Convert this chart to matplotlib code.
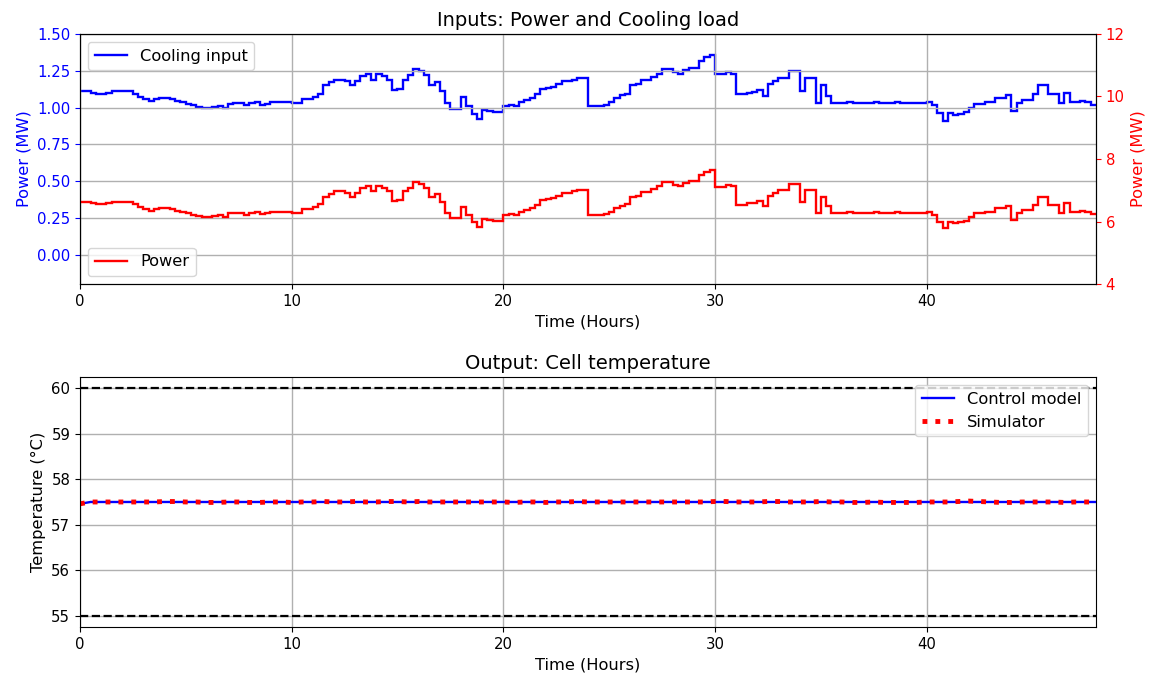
import numpy as np
import matplotlib
matplotlib.use("Agg")
import matplotlib.pyplot as plt

# Quarter-hour cooling input (MW), 48 hours
cooling = [
    1.11, 1.11, 1.10, 1.095,
    1.095, 1.10, 1.11, 1.115,
    1.11, 1.11, 1.095, 1.07,
    1.055, 1.045, 1.06, 1.065,
    1.065, 1.06, 1.045, 1.035,
    1.025, 1.015, 1.005, 0.995,
    0.995, 1.005, 1.01, 1.00,
    1.025, 1.03, 1.03, 1.015,
    1.03, 1.035, 1.02, 1.025,
    1.04, 1.04, 1.04, 1.035,
    1.03, 1.03, 1.06, 1.06,
    1.07, 1.095, 1.15, 1.175,
    1.19, 1.19, 1.18, 1.15,
    1.18, 1.215, 1.23, 1.19,
    1.23, 1.215, 1.19, 1.12,
    1.125, 1.19, 1.22, 1.26,
    1.25, 1.22, 1.15, 1.17,
    1.11, 1.03, 0.99, 0.99,
    1.07, 1.01, 0.955, 0.92,
    0.98, 0.975, 0.97, 0.97,
    1.01, 1.02, 1.01, 1.04,
    1.05, 1.065, 1.09, 1.125,
    1.135, 1.14, 1.16, 1.18,
    1.18, 1.19, 1.20, 1.20,
    1.01, 1.01, 1.01, 1.02,
    1.04, 1.065, 1.085, 1.095,
    1.15, 1.16, 1.185, 1.185,
    1.21, 1.23, 1.265, 1.265,
    1.24, 1.23, 1.255, 1.27,
    1.27, 1.315, 1.34, 1.355,
    1.225, 1.225, 1.24, 1.23,
    1.09, 1.09, 1.10, 1.105,
    1.12, 1.08, 1.16, 1.18,
    1.20, 1.20, 1.245, 1.245,
    1.11, 1.20, 1.20, 1.03,
    1.15, 1.08, 1.03, 1.03,
    1.03, 1.035, 1.03, 1.03,
    1.03, 1.03, 1.035, 1.03,
    1.03, 1.03, 1.035, 1.03,
    1.03, 1.03, 1.03, 1.03,
    1.035, 1.015, 0.96, 0.91,
    0.96, 0.95, 0.955, 0.97,
    1.00, 1.025, 1.025, 1.035,
    1.035, 1.065, 1.065, 1.085,
    0.975, 1.03, 1.05, 1.05,
    1.09, 1.15, 1.15, 1.09,
    1.09, 1.03, 1.10, 1.035,
    1.035, 1.045, 1.035, 1.02,
]

# Quarter-hour electrical power (MW), 48 hours
power = [
    6.62, 6.62, 6.58, 6.56,
    6.56, 6.58, 6.62, 6.64,
    6.62, 6.62, 6.56, 6.45,
    6.39, 6.34, 6.41, 6.43,
    6.43, 6.41, 6.34, 6.30,
    6.26, 6.22, 6.18, 6.13,
    6.13, 6.18, 6.20, 6.16,
    6.26, 6.28, 6.28, 6.22,
    6.28, 6.30, 6.24, 6.26,
    6.32, 6.32, 6.32, 6.30,
    6.28, 6.28, 6.41, 6.41,
    6.45, 6.56, 6.79, 6.89,
    6.96, 6.96, 6.91, 6.79,
    6.91, 7.06, 7.12, 6.96,
    7.12, 7.06, 6.96, 6.66,
    6.68, 6.96, 7.08, 7.25,
    7.21, 7.08, 6.79, 6.87,
    6.62, 6.28, 6.11, 6.11,
    6.45, 6.20, 5.97, 5.82,
    6.07, 6.05, 6.03, 6.03,
    6.20, 6.24, 6.20, 6.32,
    6.37, 6.43, 6.53, 6.68,
    6.72, 6.74, 6.83, 6.91,
    6.91, 6.96, 7.00, 7.00,
    6.20, 6.20, 6.20, 6.24,
    6.32, 6.43, 6.51, 6.56,
    6.79, 6.83, 6.93, 6.93,
    7.04, 7.12, 7.27, 7.27,
    7.17, 7.12, 7.23, 7.29,
    7.29, 7.48, 7.59, 7.65,
    7.10, 7.10, 7.17, 7.12,
    6.53, 6.53, 6.58, 6.60,
    6.66, 6.49, 6.83, 6.91,
    7.00, 7.00, 7.19, 7.19,
    6.62, 7.00, 7.00, 6.28,
    6.79, 6.49, 6.28, 6.28,
    6.28, 6.30, 6.28, 6.28,
    6.28, 6.28, 6.30, 6.28,
    6.28, 6.28, 6.30, 6.28,
    6.28, 6.28, 6.28, 6.28,
    6.30, 6.22, 5.99, 5.78,
    5.99, 5.94, 5.97, 6.03,
    6.16, 6.26, 6.26, 6.30,
    6.30, 6.43, 6.43, 6.51,
    6.05, 6.28, 6.37, 6.37,
    6.53, 6.79, 6.79, 6.53,
    6.53, 6.28, 6.58, 6.30,
    6.30, 6.34, 6.30, 6.24,
]

# Half-hourly cell temperature (°C)
temp_hours = np.arange(0, 48.5, 0.5)
control_model = [
    57.46, 57.50, 57.50, 57.50, 57.50, 57.50, 57.50, 57.50, 57.50, 57.50,
    57.50, 57.50, 57.50, 57.50, 57.50, 57.50, 57.50, 57.50, 57.50, 57.50,
    57.50, 57.50, 57.50, 57.50, 57.50, 57.50, 57.50, 57.50, 57.50, 57.50,
    57.50, 57.50, 57.50, 57.50, 57.50, 57.50, 57.50, 57.50, 57.50, 57.50,
    57.50, 57.50, 57.50, 57.50, 57.50, 57.50, 57.50, 57.50, 57.50, 57.50,
    57.50, 57.50, 57.50, 57.50, 57.50, 57.50, 57.50, 57.50, 57.50, 57.50,
    57.50, 57.50, 57.50, 57.50, 57.50, 57.50, 57.50, 57.50, 57.50, 57.50,
    57.50, 57.50, 57.50, 57.50, 57.50, 57.50, 57.50, 57.50, 57.50, 57.50,
    57.50, 57.50, 57.50, 57.50, 57.50, 57.50, 57.50, 57.50, 57.50, 57.50,
    57.50, 57.50, 57.50, 57.50, 57.50, 57.50, 57.50,
]
simulator = [
    57.46, 57.50, 57.50, 57.50, 57.50, 57.50, 57.50, 57.50, 57.51, 57.51,
    57.50, 57.50, 57.49, 57.49, 57.50, 57.50, 57.49, 57.49, 57.50, 57.50,
    57.49, 57.50, 57.50, 57.51, 57.50, 57.50, 57.51, 57.50, 57.50, 57.51,
    57.51, 57.50, 57.51, 57.50, 57.50, 57.50, 57.50, 57.50, 57.50, 57.50,
    57.50, 57.49, 57.50, 57.50, 57.49, 57.50, 57.50, 57.51, 57.50, 57.50,
    57.50, 57.50, 57.50, 57.50, 57.50, 57.50, 57.50, 57.50, 57.50, 57.50,
    57.51, 57.51, 57.50, 57.50, 57.50, 57.51, 57.51, 57.50, 57.50, 57.50,
    57.51, 57.50, 57.50, 57.49, 57.49, 57.50, 57.49, 57.49, 57.49, 57.49,
    57.50, 57.50, 57.50, 57.51, 57.52, 57.51, 57.50, 57.49, 57.49, 57.50,
    57.50, 57.50, 57.50, 57.49, 57.50, 57.50, 57.50,
]

temp_upper = 60.0
temp_lower = 55.0

hour_edges = np.arange(0, 48.25, 0.25)

tick_fs = 10.7
label_fs = 11.7
title_fs = 14
fig = plt.figure(figsize=(11.52, 6.79), dpi=100)

# --- Inputs panel ---
ax1 = fig.add_axes([0.0694, 0.5817, 0.882, 0.3683])
ax1.stairs(cooling, hour_edges, color="blue", linewidth=1.7, baseline=None,
           label="Cooling input")
ax1.set_xlim(0, 48)
ax1.set_ylim(-0.2, 1.5)
ax1.set_yticks(np.arange(0, 1.51, 0.25))
ax1.set_ylabel("Power (MW)", color="blue", fontsize=label_fs)
ax1.tick_params(axis="y", colors="blue", labelsize=tick_fs)
ax1.tick_params(axis="x", labelsize=tick_fs)
ax1.set_xlabel("Time (Hours)", fontsize=label_fs)
ax1.set_title("Inputs: Power and Cooling load", fontsize=title_fs)
ax1.grid(True, color="#b0b0b0", linewidth=1.0)
ax1.legend(loc="upper left", fontsize=label_fs)

ax2 = ax1.twinx()
ax2.stairs(power, hour_edges, color="red", linewidth=1.7, baseline=None,
           label="Power")
ax2.set_ylim(4, 12)
ax2.set_yticks([4, 6, 8, 10, 12])
ax2.set_ylabel("Power (MW)", color="red", fontsize=label_fs)
ax2.tick_params(axis="y", colors="red", labelsize=tick_fs)
ax2.legend(loc="lower left", fontsize=label_fs)

# --- Output panel ---
ax3 = fig.add_axes([0.0694, 0.0766, 0.882, 0.3682])
ax3.axhline(temp_upper, color="black", linestyle="--", linewidth=1.6)
ax3.axhline(temp_lower, color="black", linestyle="--", linewidth=1.6)
ax3.plot(temp_hours, control_model, color="blue", linewidth=1.7,
         label="Control model")
ax3.plot(temp_hours, simulator, color="red", linestyle=":", linewidth=3.5,
         label="Simulator")
ax3.set_xlim(0, 48)
ax3.set_ylim(54.75, 60.25)
ax3.set_xlabel("Time (Hours)", fontsize=label_fs)
ax3.set_ylabel("Temperature (°C)", fontsize=label_fs)
ax3.set_title("Output: Cell temperature", fontsize=title_fs)
ax3.tick_params(labelsize=tick_fs)
ax3.grid(True, color="#b0b0b0", linewidth=1.0)
ax3.legend(loc="upper right", fontsize=label_fs)

fig.savefig("out.png", dpi=100)
